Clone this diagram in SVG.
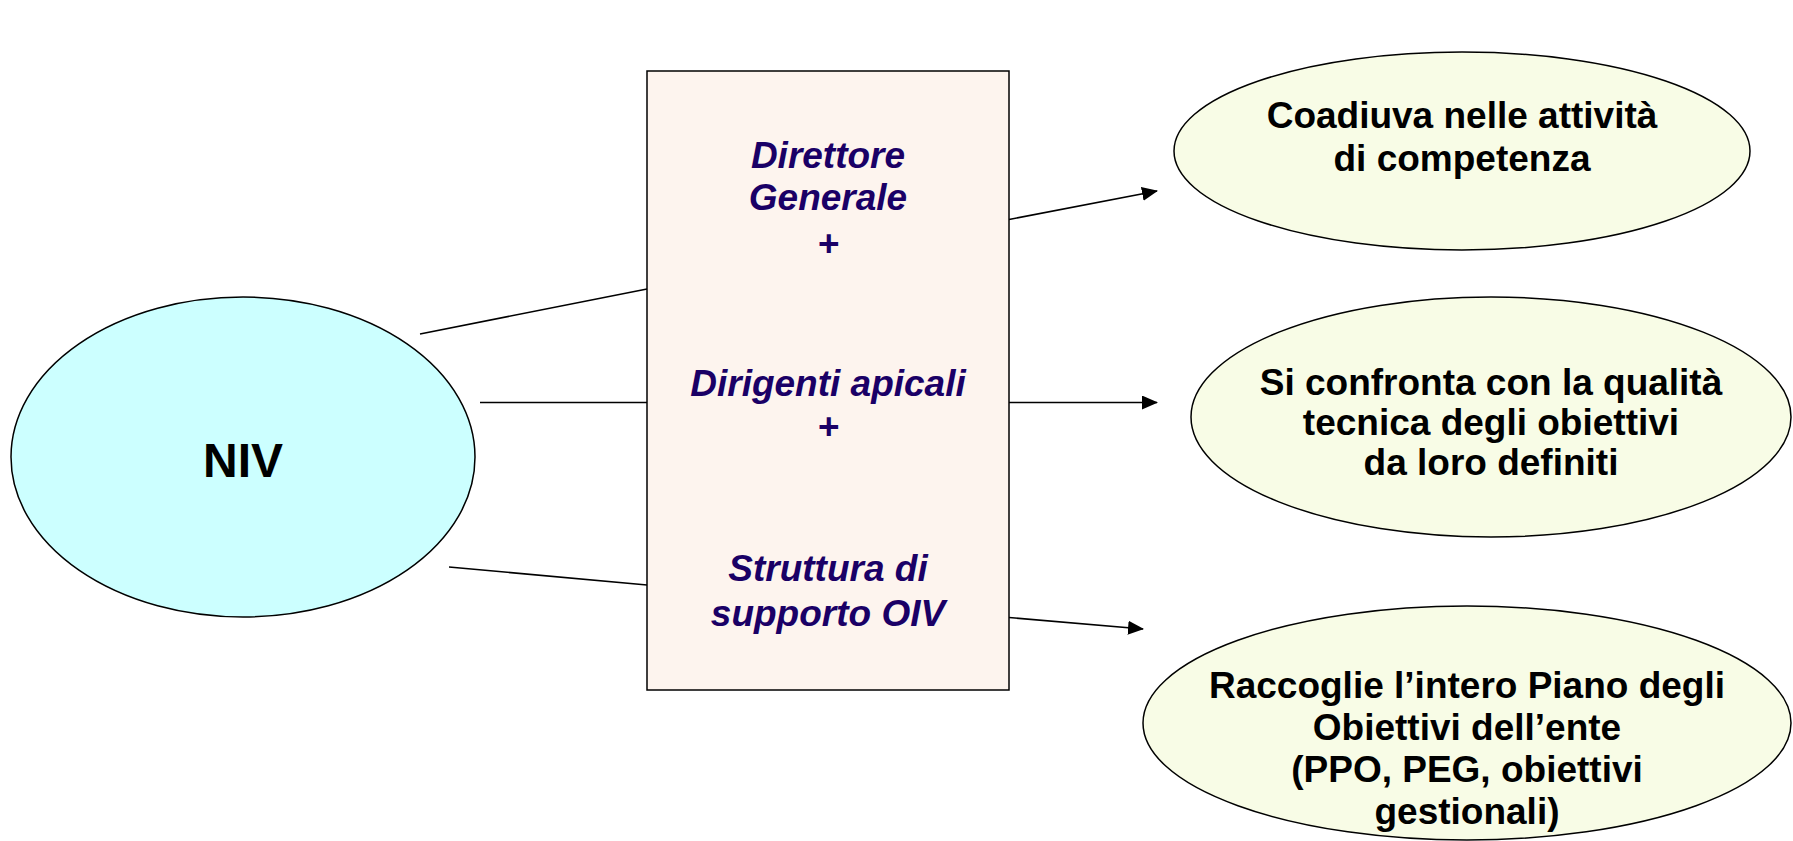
<svg xmlns="http://www.w3.org/2000/svg" width="1793" height="841" viewBox="0 0 1793 841">
<style>
.bg{fill:#ffffff}
.shape{stroke:#000000;stroke-width:1.5}
.niv{fill:#CCFFFF}
.box{fill:#FDF4EE;stroke:#000;stroke-width:1.5}
.res{fill:#F8FCE6}
.conn{stroke:#000000;stroke-width:1.6;fill:none}
.t{font-family:"Liberation Sans",Arial,sans-serif;font-weight:bold;text-anchor:middle;fill:#000}
.bt{font-family:"Liberation Sans",Arial,sans-serif;font-weight:bold;font-style:italic;text-anchor:middle;fill:#1A0066;font-size:37px}
.rt{font-size:37px}
</style>
<defs>
<marker id="arr" markerUnits="userSpaceOnUse" markerWidth="16" markerHeight="14" refX="15" refY="7" orient="auto">
<path d="M0,0 L16,7 L0,14 z" fill="#000"/>
</marker>
</defs>
<rect class="bg" x="0" y="0" width="1793" height="841"/>
<g id="connectors">
<line class="conn" x1="420" y1="334" x2="647" y2="289"/>
<line class="conn" x1="480" y1="402.5" x2="647" y2="402.5"/>
<line class="conn" x1="449" y1="567" x2="647" y2="585"/>
<line class="conn" x1="1009" y1="219.5" x2="1157" y2="191" marker-end="url(#arr)"/>
<line class="conn" x1="1009" y1="402.5" x2="1157" y2="402.5" marker-end="url(#arr)"/>
<line class="conn" x1="1009" y1="617.5" x2="1143" y2="629" marker-end="url(#arr)"/>
</g>
<g id="node-niv">
<ellipse class="shape niv" cx="243" cy="457" rx="232" ry="160"/>
<text class="t" x="243" y="477" font-size="48">NIV</text>
</g>
<g id="node-box">
<rect class="box" x="647" y="71" width="362" height="619"/>
<text class="bt" x="828" y="168">Direttore</text>
<text class="bt" x="828" y="210">Generale</text>
<text class="bt" x="828" y="256">+</text>
<text class="bt" x="828" y="396">Dirigenti apicali</text>
<text class="bt" x="828" y="439">+</text>
<text class="bt" x="828" y="581">Struttura di </text>
<text class="bt" x="828" y="626">supporto OIV</text>
</g>
<g id="node-coadiuva">
<ellipse class="shape res" cx="1462" cy="151" rx="288" ry="99"/>
<text class="t rt" x="1462" y="128">Coadiuva nelle attività</text>
<text class="t rt" x="1462" y="171">di competenza</text>
</g>
<g id="node-confronta">
<ellipse class="shape res" cx="1491" cy="417" rx="300" ry="120"/>
<text class="t rt" x="1491" y="395">Si confronta con la qualità</text>
<text class="t rt" x="1491" y="435">tecnica degli obiettivi</text>
<text class="t rt" x="1491" y="475">da loro definiti</text>
</g>
<g id="node-raccoglie">
<ellipse class="shape res" cx="1467" cy="723" rx="324" ry="117"/>
<text class="t rt" x="1467" y="698">Raccoglie l’intero Piano degli</text>
<text class="t rt" x="1467" y="740">Obiettivi dell’ente</text>
<text class="t rt" x="1467" y="782">(PPO, PEG, obiettivi</text>
<text class="t rt" x="1467" y="824">gestionali)</text>
</g>
</svg>
